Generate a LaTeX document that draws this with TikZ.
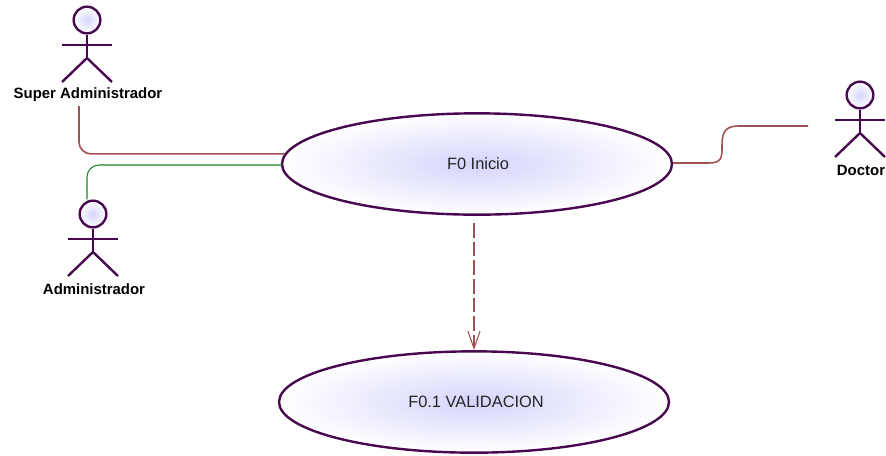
\documentclass[tikz,border=0pt]{standalone}
\usepackage{fontspec}
\setmainfont{Liberation Sans}
\usetikzlibrary{shapes.geometric, arrows.meta}
\definecolor{umlpurple}{RGB}{72,8,80}
\definecolor{umlfill}{RGB}{212,212,252}
\definecolor{umlred}{RGB}{160,80,80}
\definecolor{umlgreen}{RGB}{30,130,40}
\tikzset{
  usecase/.style={ellipse, draw=umlpurple, line width=1.8pt, inner color=umlfill, outer color=white,
    minimum width=292.5pt, minimum height=76pt, font=\fontsize{12.3}{14}\selectfont, text=black!85},
  actorhead/.style={circle, draw=umlpurple, line width=1.8pt, inner color=umlfill, outer color=white,
    minimum size=20pt, inner sep=0pt},
  actorline/.style={draw=umlpurple, line width=1.8pt},
  actorlabel/.style={font=\fontsize{11.2}{13}\selectfont\bfseries, text=black, inner sep=0pt}
}
\begin{document}
\begin{tikzpicture}[x=0.75pt, y=-0.75pt]
  \useasboundingbox (0,0) rectangle (886,455);
  % Use cases:
  \node[usecase] (inicio) at (477,164) {\raisebox{1pt}{\hspace{1.5pt}F0 Inicio}};
  \node[usecase] (validacion) at (474,402) {\raisebox{1pt}{\hspace{3pt}F0.1 VALIDACION}};
  % Actors:
  \foreach \name/\x/\y/\label/\ly in {super/87/20/Super Administrador/95, admin/93/214/Administrador/289, doctor/860/95/Doctor/170} {
    \node[actorhead] (\name head) at (\x,\y) {};
    \draw[actorline] (\name head.south) -- (\x,\y+38) coordinate (\name hip);
    \draw[actorline] (\x-25,\y+25) -- (\x+25,\y+25);
    \draw[actorline] (\x-25,\y+62) -- (\name hip) -- (\x+25,\y+62);
    \node[actorlabel] (\name label) at (\x+1,\ly) {\label};
  }
  % Connectors:
  \coordinate (superfoot) at (79,106);
  \coordinate (adminend) at (282,165);
  \coordinate (doctorend) at (808,126);
  \coordinate (depstart) at (474,223);
  \draw[umlred, line width=1.2pt, rounded corners=9pt] (superfoot) |- (inicio.177.4);
  \draw[umlgreen, line width=0.8pt, rounded corners=9pt] (adminhead.north -| 87,0) |- (adminend);
  \draw[umlred, line width=1.2pt] (inicio.east |- 0,163) -- (708,163) .. controls (722,163) and (722,158) .. (722,146)
    .. controls (722,134) and (724,126) .. (738,126) -- (doctorend);
  \draw[umlred, line width=0.8pt, dash pattern=on 11pt off 3pt, -{Straight Barb[length=13pt, width=9pt, line width=0.8pt]}] (depstart) -- (validacion.north);
\end{tikzpicture}
\end{document}
